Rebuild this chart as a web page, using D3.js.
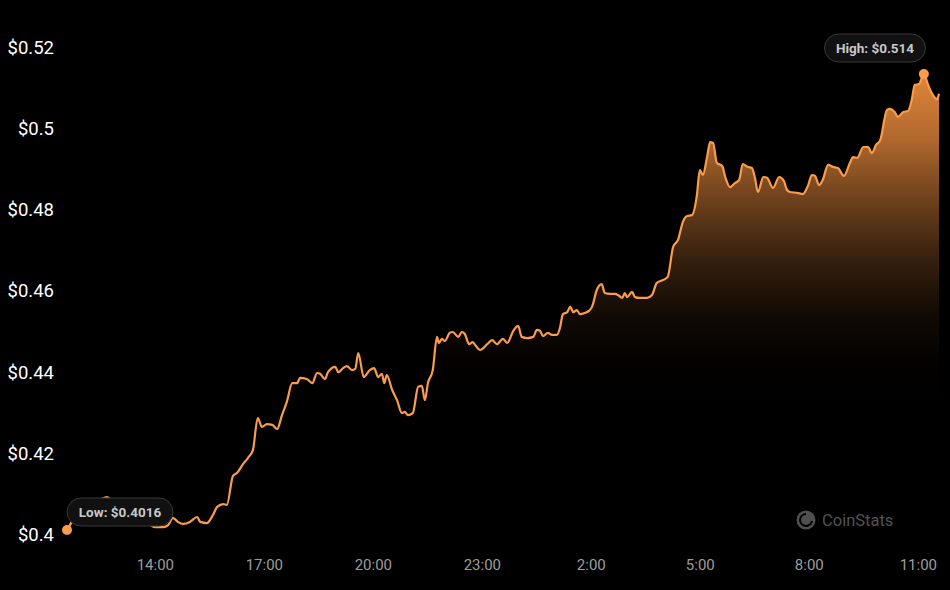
<!DOCTYPE html>
<html>
<head>
<meta charset="utf-8">
<script src="https://cdn.jsdelivr.net/npm/d3@7"></script>
<style>
  html, body { margin: 0; padding: 0; background: #000; }
  svg { display: block; }
</style>
</head>
<body>
<svg id="chart" width="950" height="590"></svg>
<script>
// ---- Data ----
const startTime = "2024-01-01T11:35:00";
// minutes elapsed since startTime
const minutes = [0,8,18,30,41,54,66,76,88,104,121,134,145,159,167,175,183,192,203,215,220,231,241,248,258,264,274,281,291,299,307,315,322,330,339,347,355,363,372,380,385,396,405,413,418,426,431,443,448,456,462,471,476,481,490,500,507,514,520,524,528,537,545,553,558,563,571,580,586,591,596,604,611,614,619,624,632,637,646,652,657,664,670,675,682,694,702,710,720,727,737,745,751,760,770,776,781,786,794,801,809,814,819,826,831,836,842,847,855,862,867,875,883,888,897,905,910,917,921,925,933,938,946,958,966,974,984,992,1001,1009,1017,1024,1032,1040,1045,1050,1057,1062,1067,1073,1082,1087,1095,1103,1110,1116,1124,1131,1136,1141,1150,1156,1166,1176,1184,1189,1194,1206,1215,1224,1230,1235,1242,1248,1257,1265,1273,1283,1293,1298,1305,1315,1323,1329,1336,1343,1354,1359,1367,1372,1381,1389,1395,1400,1407,1415,1422,1430,1437,1440];
const prices = [0.4016,0.4036,0.4063,0.4078,0.4083,0.4090,0.4097,0.4085,0.4078,0.4070,0.4055,0.4033,0.4023,0.4023,0.4028,0.4046,0.4036,0.4031,0.4036,0.4048,0.4036,0.4033,0.4053,0.4073,0.4080,0.4078,0.4149,0.4157,0.4179,0.4194,0.4213,0.4292,0.4270,0.4277,0.4275,0.4265,0.4299,0.4332,0.4378,0.4378,0.4391,0.4388,0.4378,0.4403,0.4401,0.4388,0.4405,0.4418,0.4405,0.4415,0.4420,0.4410,0.4413,0.4452,0.4393,0.4410,0.4415,0.4393,0.4401,0.4378,0.4398,0.4361,0.4336,0.4304,0.4307,0.4299,0.4304,0.4369,0.4371,0.4336,0.4378,0.4410,0.4492,0.4477,0.4487,0.4482,0.4502,0.4504,0.4492,0.4504,0.4499,0.4474,0.4479,0.4470,0.4460,0.4474,0.4484,0.4474,0.4487,0.4477,0.4507,0.4519,0.4492,0.4489,0.4492,0.4509,0.4507,0.4494,0.4502,0.4497,0.4497,0.4514,0.4548,0.4553,0.4566,0.4553,0.4558,0.4548,0.4551,0.4556,0.4566,0.4608,0.4622,0.4600,0.4598,0.4598,0.4595,0.4588,0.4600,0.4590,0.4603,0.4590,0.4588,0.4588,0.4595,0.4625,0.4632,0.4640,0.4714,0.4731,0.4775,0.4790,0.4792,0.4839,0.4903,0.4891,0.4935,0.4972,0.4970,0.4921,0.4913,0.4886,0.4861,0.4871,0.4879,0.4918,0.4911,0.4908,0.4884,0.4849,0.4886,0.4884,0.4859,0.4886,0.4876,0.4854,0.4849,0.4847,0.4844,0.4866,0.4891,0.4889,0.4866,0.4879,0.4916,0.4911,0.4908,0.4889,0.4921,0.4935,0.4933,0.4960,0.4960,0.4945,0.4965,0.4977,0.5051,0.5054,0.5046,0.5034,0.5046,0.5049,0.5076,0.5113,0.5115,0.5140,0.5113,0.5088,0.5078,0.5091];
const yTicks = [0.4, 0.42, 0.44, 0.46, 0.48, 0.5, 0.52];
const xTickLabels = ["14:00","17:00","20:00","23:00","2:00","5:00","8:00","11:00"];
const lowLabel = "Low: $0.4016";
const highLabel = "High: $0.514";
const watermark = "CoinStats";

// ---- Build ----
const t0 = new Date(startTime);
const data = minutes.map((m, i) => ({ t: new Date(t0.getTime() + m * 60000), v: prices[i] }));

// tick dates: first label is on the same day as start, wraps after midnight
const xTickDates = [];
{
  let day = 0, prevH = -1;
  xTickLabels.forEach(lbl => {
    const [h, mm] = lbl.split(":").map(Number);
    if (h < prevH) day++;
    prevH = h;
    const d = new Date(t0);
    d.setDate(d.getDate() + day);
    d.setHours(h, mm, 0, 0);
    xTickDates.push(d);
  });
}

const svg = d3.select("#chart");

const x = d3.scaleTime()
  .domain(d3.extent(data, d => d.t))
  .range([67, 939]);
const y = d3.scaleLinear()
  .domain([0.4, 0.52])
  .range([536.5, 49.6]);

// gradient for the area
const defs = svg.append("defs");
const grad = defs.append("linearGradient")
  .attr("id", "areaGrad")
  .attr("gradientUnits", "userSpaceOnUse")
  .attr("x1", 0).attr("x2", 0)
  .attr("y1", y(d3.max(prices))).attr("y2", y(0.4));
[[0, 0.92], [0.14, 0.72], [0.27, 0.45], [0.4, 0.22], [0.52, 0.07], [0.62, 0.015], [0.72, 0]].forEach(([o, a]) => {
  grad.append("stop").attr("offset", o).attr("stop-color", "#f5913f").attr("stop-opacity", a);
});

// y axis
const yAxis = d3.axisLeft(y)
  .tickValues(yTicks)
  .tickSize(0)
  .tickPadding(0)
  .tickFormat(d => "$" + (+d.toFixed(2)));
const gy = svg.append("g").attr("transform", "translate(54,0)").call(yAxis);
gy.select(".domain").remove();
gy.selectAll("text")
  .attr("fill", "#ffffff")
  .attr("dy", "0.32em")
  .attr("y", -2)
  .style("font-family", "Roboto, 'Noto Sans', sans-serif")
  .style("font-size", "18.5px");

// x axis
const xAxis = d3.axisBottom(x)
  .tickValues(xTickDates)
  .tickSize(0)
  .tickPadding(0)
  .tickFormat((d, i) => xTickLabels[i]);
const gx = svg.append("g").attr("transform", "translate(0,559)").call(xAxis);
gx.select(".domain").remove();
gx.selectAll("text")
  .attr("fill", "#9d9d9d")
  .attr("dy", "0.71em")
  .style("font-family", "Roboto, 'Noto Sans', sans-serif")
  .style("font-size", "15px");

// area + line
const area = d3.area()
  .x(d => x(d.t))
  .y0(y(0.4))
  .y1(d => y(d.v))
  .curve(d3.curveMonotoneX);
svg.append("path").datum(data)
  .attr("d", area)
  .attr("fill", "url(#areaGrad)");

const line = d3.line()
  .x(d => x(d.t))
  .y(d => y(d.v))
  .curve(d3.curveMonotoneX);
svg.append("path").datum(data)
  .attr("d", line)
  .attr("fill", "none")
  .attr("stroke", "#f99d4c")
  .attr("stroke-width", 2.2)
  .attr("stroke-linejoin", "round");

// watermark
const wm = svg.append("g");
wm.append("circle").attr("cx", 806).attr("cy", 520).attr("r", 9.5).attr("fill", "#4f4f4f");
wm.append("path")
  .attr("d", "M806,513 A7,7 0 1,0 813,521 L806,521 Z")
  .attr("fill", "#000");
wm.append("circle").attr("cx", 806).attr("cy", 520).attr("r", 5).attr("fill", "#4f4f4f");
wm.append("text")
  .attr("x", 822).attr("y", 526)
  .attr("fill", "#525252")
  .style("font-family", "Roboto, 'Noto Sans', sans-serif")
  .style("font-size", "16.5px")
  .text(watermark);

// low / high markers
const lowPt = data.reduce((a, b) => (b.v < a.v ? b : a));
const highPt = data.reduce((a, b) => (b.v > a.v ? b : a));

function pill(cx, cy, text, w) {
  const g = svg.append("g");
  g.append("rect")
    .attr("x", cx - w / 2).attr("y", cy - 14)
    .attr("width", w).attr("height", 28)
    .attr("rx", 14).attr("ry", 14)
    .attr("fill", "#111111")
    .attr("stroke", "#383838")
    .attr("stroke-width", 1);
  g.append("text")
    .attr("x", cx).attr("y", cy)
    .attr("dy", "0.35em")
    .attr("text-anchor", "middle")
    .attr("fill", "#c8c8c8")
    .style("font-family", "Roboto, 'Noto Sans', sans-serif")
    .style("font-weight", "bold")
    .style("font-size", "13.5px")
    .text(text);
}

svg.append("circle").attr("cx", x(lowPt.t)).attr("cy", y(lowPt.v)).attr("r", 5).attr("fill", "#f99d4c");
svg.append("circle").attr("cx", x(highPt.t)).attr("cy", y(highPt.v)).attr("r", 5).attr("fill", "#f99d4c");
pill(120, 512, lowLabel, 106);
pill(875, 48, highLabel, 101);
</script>
</body>
</html>
